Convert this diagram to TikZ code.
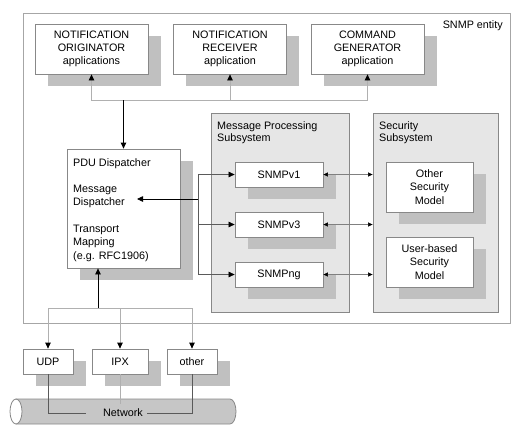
\documentclass[tikz,border=0pt]{standalone}
\usepackage{fontspec}
\setmainfont{Liberation Sans}
\usetikzlibrary{arrows.meta,shadows}
\definecolor{boxc}{HTML}{888888}
\definecolor{framec}{HTML}{A6A6A6}
\definecolor{subc}{HTML}{E6E6E6}
\definecolor{shadowc}{HTML}{C0C0C0}
\definecolor{cylc}{HTML}{C6C6C6}
\definecolor{llinec}{HTML}{B0B0B0}
\definecolor{dlinec}{HTML}{5A5A5A}
\definecolor{mlinec}{HTML}{808080}
\tikzset{
  bigtri/.tip={Triangle[length=6pt,width=5.5pt,color=black]},
  smalltri/.tip={Triangle[length=4.5pt,width=4pt,color=black]},
}
\begin{document}
\begin{tikzpicture}[x=1pt,y=-1pt,
  every node/.style={font=\fontsize{10.8}{13.3}\selectfont, text=black, inner sep=0pt},
  boxn/.style={draw=boxc, fill=white, line width=0.8pt, align=center,
    drop shadow={opacity=1, fill=shadowc, shadow xshift=12.5pt, shadow yshift=-12pt}},
  subsys/.style={draw=boxc, fill=subc, line width=0.8pt},
  framebox/.style={draw=framec, line width=0.8pt},
  blk/.style={draw=black, line width=0.8pt},
  lline/.style={draw=llinec, line width=0.8pt},
  dline/.style={draw=dlinec, line width=0.6pt},
  mline/.style={draw=mlinec, line width=0.6pt},
]
\useasboundingbox (0,0) rectangle (528,434);

% SNMP entity frame
\node[framebox, minimum width=487pt, minimum height=310pt] (entity) at (266.5,168) {};
\node[anchor=base east] (entlbl) at (503,28) {SNMP entity};

% subsystems
\node[subsys, minimum width=138pt, minimum height=199pt] (mps) at (280,212.5) {};
\node[subsys, minimum width=125pt, minimum height=199pt] (secs) at (435.5,212.5) {};
\node[anchor=base west] (mps1) at (217,129) {Message Processing};
\node[anchor=base west] (mps2) at (217,141.5) {Subsystem};
\node[anchor=base west] (sec1) at (379,129) {Security};
\node[anchor=base west] (sec2) at (379,141.5) {Subsystem};

% applications
\node[boxn, minimum width=113pt, minimum height=50pt] (nor) at (91.5,49) {NOTIFICATION\\ORIGINATOR\\applications};
\node[boxn, minimum width=113pt, minimum height=50pt] (nrc) at (230,49) {NOTIFICATION\\RECEIVER\\application};
\node[boxn, minimum width=113pt, minimum height=50pt] (cg) at (367.5,49) {COMMAND\\GENERATOR\\application};

% PDU dispatcher
\node[boxn, minimum width=113pt, minimum height=119pt] (pdu) at (123.5,208.5) {};
\node[anchor=base west] (pdut) at (73,166) {PDU Dispatcher};
\node[anchor=base west] (md1) at (73,192.6) {Message};
\node[anchor=base west] (md2) at (73,205.9) {Dispatcher};
\node[anchor=base west] (tm1) at (73,232.5) {Transport};
\node[anchor=base west] (tm2) at (73,245.8) {Mapping};
\node[anchor=base west] (tm3) at (73,259.1) {(e.g. RFC1906)};

% message processing models
\node[boxn, minimum width=88pt, minimum height=25pt] (v1) at (279,174.5) {SNMPv1};
\node[boxn, minimum width=88pt, minimum height=25pt] (v3) at (279,224.5) {SNMPv3};
\node[boxn, minimum width=88pt, minimum height=25pt] (ng) at (279,274.5) {SNMPng};

% security models
\node[boxn, minimum width=87pt, minimum height=50pt] (osm) at (429.5,187) {Other\\Security\\Model};
\node[boxn, minimum width=87pt, minimum height=50pt] (usm) at (429.5,262) {User-based\\Security\\Model};

% transports
\node[boxn, minimum width=50pt, minimum height=25pt] (udp) at (48,361.5) {UDP};
\node[boxn, minimum width=56pt, minimum height=25pt] (ipx) at (120,361.5) {IPX};
\node[boxn, minimum width=50pt, minimum height=25pt] (oth) at (192,361.5) {other};

% network cylinder
\filldraw[draw=boxc, fill=cylc, line width=0.8pt] (16,399) -- (230,399)
  arc[start angle=-90, end angle=90, x radius=6, y radius=12.5] -- (16,424) -- cycle;
\filldraw[draw=boxc, fill=white, line width=0.8pt] (16,411.5) ellipse [x radius=6, y radius=12.5];
\node (net) at (123,413) {Network};
\coordinate (nl) at (86,413);
\coordinate (nr) at (147,413);
\coordinate (ipxend) at (120,404);
\draw[dline] (udp.south) |- (nl);
\draw[dline] (oth.south) |- (nr);
\draw[lline] (ipx.south) -- (ipxend);

% top connectors
\coordinate (tj) at (123.5,100);
\draw[lline, -{bigtri}] (tj) -| (nor.south);
\draw[lline, -{bigtri}] (tj) -| (nrc.south);
\draw[lline, -{bigtri}] (tj) -| (cg.south);
\draw[blk, -{bigtri}] (tj) -- (pdu.north);

% dispatcher to message processing
\coordinate (pj) at (198,199);
\coordinate (mdtip) at (137,199);
\draw[blk, -{bigtri}] (pj) -- (mdtip);
\draw[dline, -{bigtri}] (pj) |- (v1.west);
\draw[dline, -{bigtri}] (pj) |- (v3.west);
\draw[dline, -{bigtri}] (pj) |- (ng.west);

% message processing to security
\draw[mline, {smalltri}-{smalltri}] (v1.east) -- (v1.east -| secs.west);
\draw[mline, {smalltri}-{smalltri}] (v3.east) -- (v3.east -| secs.west);
\draw[mline, {smalltri}-{smalltri}] (ng.east) -- (ng.east -| secs.west);

% transports to dispatcher
\coordinate (bj) at (98,308);
\draw[lline, -{bigtri}] (bj) -| (udp.north);
\draw[lline, -{bigtri}] (bj) -| (ipx.north);
\draw[lline, -{bigtri}] (bj) -| (oth.north);
\draw[blk, -{bigtri}] (bj) -- (bj |- pdu.south);
\end{tikzpicture}
\end{document}
